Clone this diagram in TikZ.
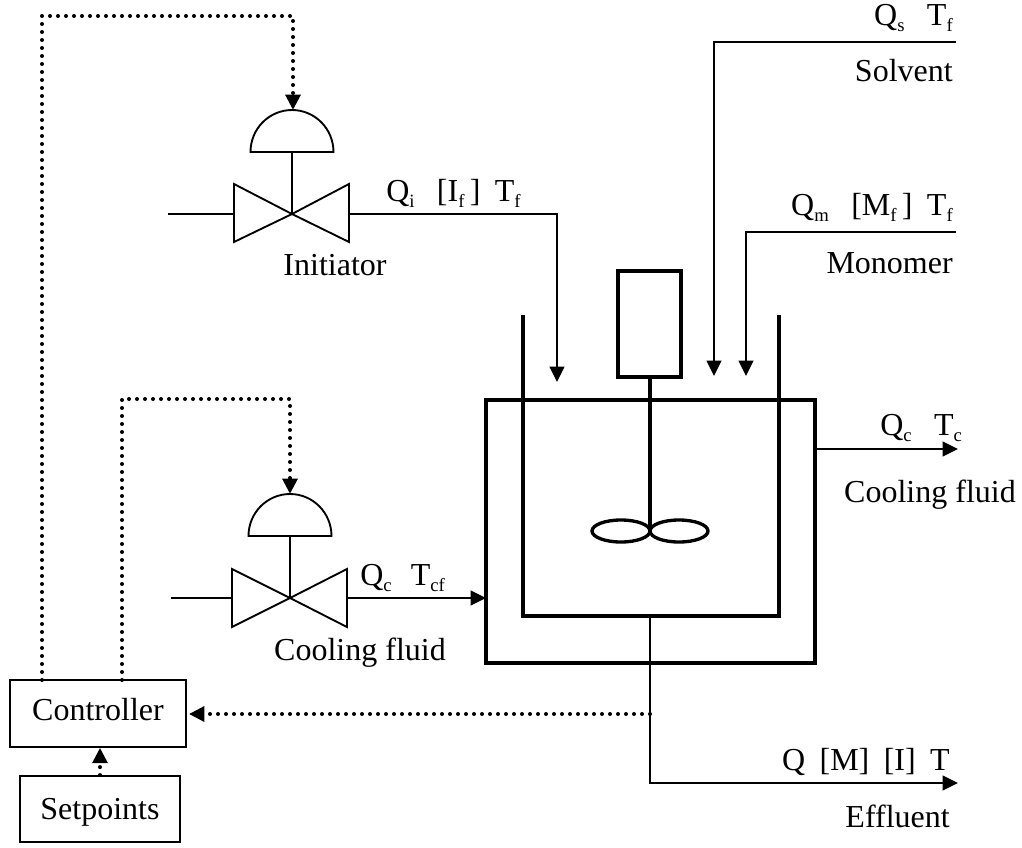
\documentclass[tikz,border=0pt]{standalone}
\usepackage{fontspec}
\setmainfont{Liberation Serif}
\usetikzlibrary{arrows.meta}
\newcommand{\lowidx}[1]{\raisebox{-0.45ex}{\fontsize{14}{14}\selectfont #1}}
\tikzset{
	tag/.style={inner sep=0pt,font=\fontsize{24}{28}\selectfont},
	pipe/.style={line width=1.4pt},
	wall/.style={line width=2.5pt},
	signal/.style={line width=3pt,line cap=round,dash pattern=on 0pt off 6pt},
	tip/.style={-{Triangle[length=11.5pt,width=11pt]}},
	box/.style={draw,line width=1.4pt,inner sep=0pt,font=\fontsize{24}{28}\selectfont}
}
\begin{document}
\begin{tikzpicture}[x=0.75pt,y=-0.75pt]
		\useasboundingbox (0,0) rectangle (1022,847);
		\coordinate (IV) at (292,214);
		\coordinate (IS) at (292,152);
		\coordinate (IIn) at (168,214);
		\coordinate (IL) at (234,214);
		\coordinate (ILA) at (234,184);
		\coordinate (ILB) at (234,242);
		\coordinate (IOut) at (349,214);
		\coordinate (IRA) at (349,184);
		\coordinate (IRB) at (349,242);
		\coordinate (IDome) at (250.5,152);
		\coordinate (IBend) at (557,214);
		\coordinate (ITip) at (557,382);
		\coordinate (CV) at (290,598);
		\coordinate (CS) at (290,536);
		\coordinate (CIn) at (171,598);
		\coordinate (CL) at (232,598);
		\coordinate (CLA) at (232,569);
		\coordinate (CLB) at (232,627);
		\coordinate (COut) at (347,598);
		\coordinate (CRA) at (347,569);
		\coordinate (CRB) at (347,627);
		\coordinate (CDome) at (248.5,536);
		\coordinate (CTip) at (486,598);
		\coordinate (SIn) at (956,42);
		\coordinate (SBend) at (714,42);
		\coordinate (STip) at (714,376);
		\coordinate (MIn) at (956,232);
		\coordinate (MBend) at (746,232);
		\coordinate (MTip) at (746,376);
		\coordinate (JA) at (486,400);
		\coordinate (JB) at (815,663);
		\coordinate (WL) at (523,315);
		\coordinate (WLB) at (523,616);
		\coordinate (WRB) at (779,616);
		\coordinate (WR) at (779,315);
		\coordinate (RA) at (618,271);
		\coordinate (RB) at (681,377);
		\coordinate (RS) at (650,377);
		\coordinate (RH) at (650,531);
		\coordinate (OA) at (650,616);
		\coordinate (OB) at (650,783);
		\coordinate (OTip) at (958,783);
		\coordinate (OS) at (650,714);
		\coordinate (JOut) at (815,449);
		\coordinate (JTip) at (958,449);
		\coordinate (LA) at (42,680);
		\coordinate (LB) at (42,16);
		\coordinate (LC) at (293,16);
		\coordinate (LD) at (293,110);
		\coordinate (KA) at (122,680);
		\coordinate (KB) at (122,399);
		\coordinate (KC) at (290,399);
		\coordinate (KD) at (290,494);
		\node [box,minimum width=132pt,minimum height=50pt,text depth=6pt] (controller) at (98,713.5) {Controller};
		\node [box,minimum width=120pt,minimum height=49.5pt,text depth=0pt] (setpoints) at (100,809) {Setpoints};
		% valves
		\draw [pipe] (IIn) to (IL);
		\draw [pipe] (IV) -- (ILA) -- (ILB) -- cycle;
		\draw [pipe] (IV) -- (IRA) -- (IRB) -- cycle;
		\draw [pipe] (IV) to (IS);
		\draw [pipe] (IDome) arc (180:360:41.5 and 42) -- cycle;
		\draw [pipe] (CIn) to (CL);
		\draw [pipe] (CV) -- (CLA) -- (CLB) -- cycle;
		\draw [pipe] (CV) -- (CRA) -- (CRB) -- cycle;
		\draw [pipe] (CV) to (CS);
		\draw [pipe] (CDome) arc (180:360:41.5 and 42) -- cycle;
		% feeds
		\draw [pipe,tip] (IOut) to (IBend) to (ITip);
		\draw [pipe,tip] (COut) to (CTip);
		\draw [pipe,tip] (SIn) to (SBend) to (STip);
		\draw [pipe,tip] (MIn) to (MBend) to (MTip);
		\draw [pipe,tip] (JOut) to (JTip);
		\draw [pipe,tip] (OA) to (OB) to (OTip);
		% reactor
		\draw [wall] (JA) rectangle (JB);
		\draw [wall] (WL) to (WLB) to (WRB) to (WR);
		\draw [wall] (RA) rectangle (RB);
		\draw [wall] (RS) to (RH);
		\draw [wall] (621,531) circle [x radius=29,y radius=11];
		\draw [wall] (679,531) circle [x radius=29,y radius=11];
		% signals
		\draw [signal,tip] (LA) to (LB) to (LC) to (LD);
		\draw [signal,tip] (KA) to (KB) to (KC) to (KD);
		\draw [signal,tip,shorten >=1.5pt] (OS) to (controller.east |- OS);
		\draw [signal,tip] (setpoints.north) to (setpoints.north |- controller.south);
		% labels
		\node [tag,anchor=base west] (qi) at (386,201) {Q\lowidx{i}\hspace{0.7em}[I\lowidx{f}\,]\hspace{0.45em}T\lowidx{f}};
		\node [tag,anchor=base] (initiator) at (335,275) {Initiator};
		\node [tag,anchor=base east] (qs) at (953,25) {Q\lowidx{s}\hspace{0.7em}T\lowidx{f}};
		\node [tag,anchor=base east] (solvent) at (953,81) {Solvent};
		\node [tag,anchor=base east] (qm) at (953,215) {Q\lowidx{m}\hspace{0.7em}[M\lowidx{f}\,]\hspace{0.45em}T\lowidx{f}};
		\node [tag,anchor=base east] (monomer) at (953,273) {Monomer};
		\node [tag,anchor=base west] (qc) at (360,585) {Q\lowidx{c}\hspace{0.6em}T\lowidx{cf}};
		\node [tag,anchor=base] (coolin) at (360,660) {Cooling fluid};
		\node [tag,anchor=base west] (qo) at (880,435) {Q\lowidx{c}\hspace{0.7em}T\lowidx{c}};
		\node [tag,anchor=base] (coolout) at (930,502) {Cooling fluid};
		\node [tag,anchor=base east] (qe) at (950,770) {Q\hspace{0.45em}[M]\hspace{0.45em}[I]\hspace{0.45em}T};
		\node [tag,anchor=base east] (effluent) at (950,827) {Effluent};
	\end{tikzpicture}
\end{document}
